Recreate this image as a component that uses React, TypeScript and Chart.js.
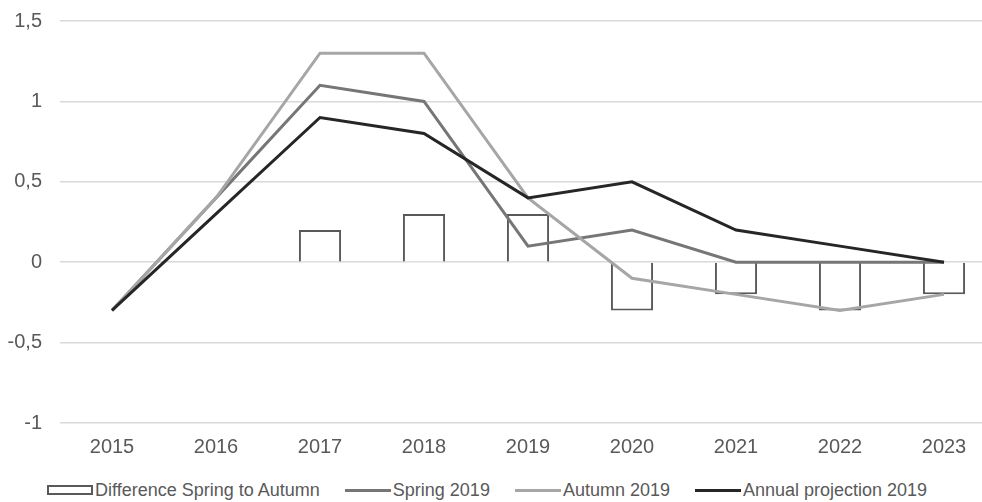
import React, { useEffect, useRef } from "react";
import { Chart, registerables } from "chart.js";

Chart.register(...registerables);

// Years on the category axis
const years = ["2015", "2016", "2017", "2018", "2019", "2020", "2021", "2022", "2023"];

// Difference between the spring and autumn forecasts (bars)
const differenceSpringToAutumn = [null, null, 0.2, 0.3, 0.3, -0.3, -0.2, -0.3, -0.2];

// Forecast lines
const spring2019 = [-0.3, 0.4, 1.1, 1.0, 0.1, 0.2, 0, 0, 0];
const autumn2019 = [-0.3, 0.4, 1.3, 1.3, 0.4, -0.1, -0.2, -0.3, -0.2];
const annualProjection2019 = [-0.3, 0.3, 0.9, 0.8, 0.4, 0.5, 0.2, 0.1, 0];

// Value axis
const yMin = -1;
const yMax = 1.5;
const yStep = 0.5;

const seriesNames = {
  diff: "Difference Spring to Autumn",
  spring: "Spring 2019",
  autumn: "Autumn 2019",
  annual: "Annual projection 2019",
};

const colors = {
  text: "#595959",
  grid: "#d9d9d9",
  barBorder: "#595959",
  spring: "#767676",
  autumn: "#a6a6a6",
  annual: "#262626",
};

const FONT = "'Liberation Sans', Arial, sans-serif";

const formatTick = (v: number) => String(v).replace(".", ",");

export default function App() {
  const canvasRef = useRef<HTMLCanvasElement | null>(null);

  useEffect(() => {
    if (!canvasRef.current) return;
    const chart = new Chart(canvasRef.current, {
      type: "bar",
      data: {
        labels: years,
        datasets: [
          {
            type: "line",
            label: seriesNames.annual,
            data: annualProjection2019,
            borderColor: colors.annual,
            borderWidth: 3,
            pointRadius: 0,
            tension: 0,
            order: 1,
          },
          {
            type: "line",
            label: seriesNames.autumn,
            data: autumn2019,
            borderColor: colors.autumn,
            borderWidth: 3,
            pointRadius: 0,
            tension: 0,
            order: 2,
          },
          {
            type: "line",
            label: seriesNames.spring,
            data: spring2019,
            borderColor: colors.spring,
            borderWidth: 3,
            pointRadius: 0,
            tension: 0,
            order: 3,
          },
          {
            type: "bar",
            label: seriesNames.diff,
            data: differenceSpringToAutumn,
            backgroundColor: "#ffffff",
            borderColor: colors.barBorder,
            borderWidth: 2,
            barPercentage: 0.81,
            categoryPercentage: 0.5,
            order: 4,
          },
        ],
      },
      options: {
        animation: false,
        responsive: true,
        maintainAspectRatio: false,
        layout: { padding: { top: 21, right: 4, left: 0, bottom: 0 } },
        plugins: {
          legend: { display: false },
          tooltip: { enabled: false },
        },
        scales: {
          x: {
            offset: true,
            grid: { display: false },
            border: { display: false },
            ticks: {
              color: colors.text,
              font: { family: FONT, size: 20 },
              padding: 4,
              maxRotation: 0,
            },
            afterFit: (scale: any) => {
              scale.height = 47;
            },
          },
          y: {
            min: yMin,
            max: yMax,
            grid: { color: colors.grid, lineWidth: 1.5, drawTicks: false },
            border: { display: false },
            ticks: {
              stepSize: yStep,
              color: colors.text,
              font: { family: FONT, size: 20 },
              padding: 18,
              callback: (v: any) => formatTick(Number(v)),
            },
            afterFit: (scale: any) => {
              scale.width = 60;
              scale.paddingTop = 0;
              scale.paddingBottom = 0;
            },
          },
        },
      },
    } as any);
    return () => chart.destroy();
  }, []);

  const legendItems = [
    { name: seriesNames.diff, kind: "box", color: colors.barBorder },
    { name: seriesNames.spring, kind: "line", color: colors.spring },
    { name: seriesNames.autumn, kind: "line", color: colors.autumn },
    { name: seriesNames.annual, kind: "line", color: colors.annual },
  ];

  return (
    <div
      style={{
        position: "fixed",
        left: 0,
        top: 0,
        width: 982,
        height: 502,
        overflow: "hidden",
        background: "#ffffff",
      }}
    >
      <div style={{ position: "absolute", left: 0, top: 0, width: 1000, height: 470 }}>
        <canvas ref={canvasRef} />
      </div>
      <div
        style={{
          position: "absolute",
          left: 47,
          top: 479,
          height: 22,
          display: "flex",
          alignItems: "center",
          fontFamily: FONT,
          fontSize: 18,
          color: colors.text,
          whiteSpace: "nowrap",
        }}
      >
        {legendItems.map((item, i) => (
          <div
            key={item.name}
            style={{ display: "flex", alignItems: "center", marginLeft: i === 0 ? 0 : 25 }}
          >
            {item.kind === "box" ? (
              <span
                style={{
                  display: "inline-block",
                  width: 46,
                  height: 10,
                  boxSizing: "border-box",
                  border: `2px solid ${item.color}`,
                  background: "#ffffff",
                }}
              />
            ) : (
              <span
                style={{
                  display: "inline-block",
                  width: 46,
                  height: 3,
                  background: item.color,
                }}
              />
            )}
            <span style={{ marginLeft: 2, lineHeight: "22px" }}>{item.name}</span>
          </div>
        ))}
      </div>
    </div>
  );
}
